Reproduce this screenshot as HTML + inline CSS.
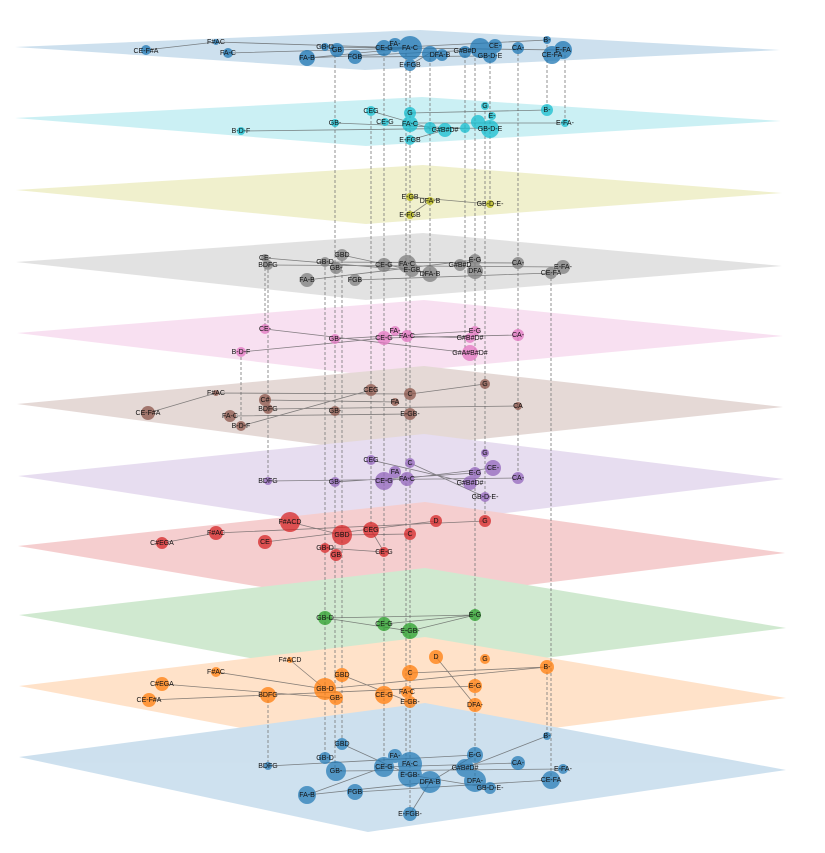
<!DOCTYPE html>
<html><head><meta charset="utf-8"><style>
html,body{margin:0;padding:0;background:#fff;}
svg{display:block;}
text{font-family:"Liberation Sans",sans-serif;font-size:7px;fill:#111;text-anchor:middle;dominant-baseline:middle;}
.e{stroke:#555;stroke-width:0.8;opacity:0.7;fill:none}
.d{stroke:#777;stroke-width:0.8;stroke-dasharray:3,2;fill:none}
</style></head><body>
<svg width="825" height="853" viewBox="0 0 825 853" xmlns="http://www.w3.org/2000/svg">
<!-- planes -->
<g opacity="0.22">
<polygon points="15,47 420,30 780,50 365,70" fill="#1f77b4"/>
<polygon points="15,118 422,97 781,121 366,146" fill="#17becf"/>
<polygon points="16,190 423,165 782,193 366,224" fill="#bcbd22"/>
<polygon points="16,262 423,233 782,266 366,300" fill="#7f7f7f"/>
<polygon points="17,333 424,300 783,336 367,375" fill="#e377c2"/>
<polygon points="17,404 424,366 783,407 367,451" fill="#8c564b"/>
<polygon points="18,476 424,434 784,479 367,530" fill="#9467bd"/>
<polygon points="18,546 425,502 785,553 368,605" fill="#d62728"/>
<polygon points="19,615 425,568 786,628 368,680" fill="#2ca02c"/>
<polygon points="19,686 425,637 786,698 368,752" fill="#ff7f0e"/>
<polygon points="19,757 425,703 786,770 368,832" fill="#1f77b4"/>
</g>
<!-- dashed verticals -->
<g class="d">
<line x1="335" y1="50" x2="335" y2="771"/>
<line x1="384" y1="48" x2="384" y2="767"/>
<line x1="410" y1="65" x2="410" y2="814"/>
<line x1="406" y1="48" x2="406" y2="764"/>
<line x1="430" y1="53" x2="430" y2="274"/>
<line x1="475" y1="48" x2="475" y2="781"/>
<line x1="465" y1="50" x2="465" y2="353"/>
<line x1="485" y1="106" x2="485" y2="521"/>
<line x1="490" y1="56" x2="490" y2="204"/>
<line x1="518" y1="48" x2="518" y2="478"/>
<line x1="547" y1="40" x2="547" y2="110"/>
<line x1="565" y1="50" x2="565" y2="123"/>
<line x1="547" y1="667" x2="547" y2="736"/>
<line x1="268" y1="265" x2="268" y2="481"/>
<line x1="268" y1="695" x2="268" y2="766"/>
<line x1="325" y1="262" x2="325" y2="758"/>
<line x1="342" y1="255" x2="342" y2="744"/>
<line x1="371" y1="111" x2="371" y2="530"/>
<line x1="551" y1="273" x2="551" y2="780"/>
<line x1="265" y1="258" x2="265" y2="329"/>
<line x1="241" y1="352" x2="241" y2="426"/>
</g>
<!-- edges -->
<g class="e">
<path d="M146,50 L216,42 L410,48 M228,53 L410,48 M307,58 L410,48 L560,50 M307,58 L475,50 M355,57 L490,56 M325,47 L565,50 M384,48 L547,40 M410,65 L430,53"/>
<path d="M241,131 L490,128 M335,123 L460,128 M410,113 L547,110 M410,123 L565,123 M371,111 L430,128 M410,140 L445,130"/>
<path d="M410,197 L490,204 M410,215 L430,201"/>
<path d="M268,265 L563,267 M307,280 L475,260 M355,280 L551,273 M325,262 L518,263 M342,255 L430,274 M265,258 L410,270"/>
<path d="M241,352 L384,338 L518,335 M265,329 L470,353 M335,339 L475,331 M407,336 L470,338"/>
<path d="M148,413 L216,393 L410,394 L485,384 M230,416 L410,414 M268,409 L518,406 M241,426 L371,390 M265,400 L395,402"/>
<path d="M268,481 L518,478 M384,481 L493,468 M335,482 L475,473 M371,460 L470,483 M410,463 L485,497"/>
<path d="M162,543 L216,533 L485,521 M265,542 L436,521 M290,522 L342,535 L410,534 M325,548 L384,552 L371,530"/>
<path d="M325,618 L475,615 L410,631 L325,618 M384,624 L475,615"/>
<path d="M149,700 L268,695 L475,686 M162,684 L336,698 M216,672 L325,689 L547,667 M290,660 L325,689 M410,673 L547,667 M436,657 L475,705 M342,675 L410,702"/>
<path d="M268,766 L475,755 M307,795 L430,782 L475,755 M355,792 L551,780 M336,771 L563,769 M342,744 L410,775 L490,788 M384,767 L518,763 M410,814 L430,782 M547,736 L465,768 M307,795 L384,767"/>
</g>
<!-- nodes -->
<g>
<g fill="#1f77b4" opacity="0.75">
<circle cx="146" cy="50" r="5"/><circle cx="216" cy="42" r="3"/><circle cx="228" cy="53" r="5"/><circle cx="307" cy="58" r="8"/><circle cx="325" cy="47" r="4"/><circle cx="337" cy="50" r="7"/><circle cx="355" cy="57" r="7"/><circle cx="384" cy="48" r="8"/><circle cx="395" cy="45" r="7"/><circle cx="410" cy="48" r="12"/><circle cx="410" cy="65" r="6"/><circle cx="430" cy="54" r="8"/><circle cx="442" cy="55" r="6"/><circle cx="465" cy="52" r="6"/><circle cx="480" cy="48" r="10"/><circle cx="490" cy="56" r="7"/><circle cx="495" cy="46" r="7"/><circle cx="518" cy="48" r="6"/><circle cx="547" cy="40" r="4"/><circle cx="552" cy="55" r="9"/><circle cx="563" cy="50" r="9"/>
</g>
<g fill="#17becf" opacity="0.75">
<circle cx="241" cy="131" r="4"/><circle cx="335" cy="123" r="4"/><circle cx="371" cy="111" r="5"/><circle cx="385" cy="122" r="4"/><circle cx="410" cy="113" r="6"/><circle cx="410" cy="124" r="8"/><circle cx="430" cy="128" r="6"/><circle cx="445" cy="130" r="7"/><circle cx="465" cy="128" r="5"/><circle cx="478" cy="122" r="7"/><circle cx="485" cy="106" r="4"/><circle cx="492" cy="116" r="4"/><circle cx="490" cy="129" r="9"/><circle cx="547" cy="110" r="6"/><circle cx="565" cy="123" r="4"/><circle cx="410" cy="140" r="5"/>
</g>
<g fill="#bcbd22" opacity="0.8">
<circle cx="410" cy="197" r="4"/><circle cx="430" cy="201" r="4"/><circle cx="490" cy="204" r="4"/><circle cx="410" cy="215" r="4"/>
</g>
<g fill="#7f7f7f" opacity="0.75">
<circle cx="265" cy="258" r="4"/><circle cx="268" cy="265" r="5"/><circle cx="325" cy="262" r="5"/><circle cx="342" cy="255" r="6"/><circle cx="336" cy="268" r="6"/><circle cx="307" cy="280" r="7"/><circle cx="355" cy="280" r="6"/><circle cx="384" cy="265" r="7"/><circle cx="407" cy="264" r="9"/><circle cx="412" cy="270" r="7"/><circle cx="430" cy="274" r="8"/><circle cx="460" cy="265" r="6"/><circle cx="475" cy="260" r="6"/><circle cx="475" cy="271" r="8"/><circle cx="518" cy="263" r="6"/><circle cx="563" cy="267" r="7"/><circle cx="551" cy="273" r="6"/>
</g>
<g fill="#e377c2" opacity="0.75">
<circle cx="265" cy="329" r="5"/><circle cx="241" cy="352" r="5"/><circle cx="335" cy="339" r="5"/><circle cx="395" cy="331" r="5"/><circle cx="384" cy="338" r="7"/><circle cx="407" cy="336" r="6"/><circle cx="470" cy="353" r="8"/><circle cx="475" cy="331" r="5"/><circle cx="470" cy="338" r="5"/><circle cx="518" cy="335" r="6"/>
</g>
<g fill="#8c564b" opacity="0.75">
<circle cx="216" cy="393" r="3"/><circle cx="148" cy="413" r="7"/><circle cx="230" cy="416" r="6"/><circle cx="241" cy="426" r="5"/><circle cx="265" cy="400" r="6"/><circle cx="268" cy="409" r="5"/><circle cx="335" cy="411" r="5"/><circle cx="371" cy="390" r="6"/><circle cx="410" cy="394" r="6"/><circle cx="395" cy="402" r="4"/><circle cx="410" cy="414" r="6"/><circle cx="485" cy="384" r="5"/><circle cx="518" cy="406" r="4"/>
</g>
<g fill="#9467bd" opacity="0.75">
<circle cx="371" cy="460" r="5"/><circle cx="268" cy="481" r="4"/><circle cx="335" cy="482" r="5"/><circle cx="410" cy="463" r="5"/><circle cx="395" cy="472" r="6"/><circle cx="384" cy="481" r="9"/><circle cx="407" cy="479" r="7"/><circle cx="475" cy="473" r="6"/><circle cx="493" cy="468" r="8"/><circle cx="485" cy="453" r="4"/><circle cx="470" cy="483" r="7"/><circle cx="518" cy="478" r="6"/><circle cx="485" cy="497" r="5"/>
</g>
<g fill="#d62728" opacity="0.75">
<circle cx="162" cy="543" r="6"/><circle cx="216" cy="533" r="7"/><circle cx="265" cy="542" r="7"/><circle cx="290" cy="522" r="10"/><circle cx="342" cy="535" r="10"/><circle cx="371" cy="530" r="8"/><circle cx="436" cy="521" r="6"/><circle cx="485" cy="521" r="6"/><circle cx="410" cy="534" r="6"/><circle cx="325" cy="548" r="5"/><circle cx="336" cy="555" r="6"/><circle cx="384" cy="552" r="5"/>
</g>
<g fill="#2ca02c" opacity="0.75">
<circle cx="325" cy="618" r="7"/><circle cx="384" cy="624" r="7"/><circle cx="410" cy="631" r="8"/><circle cx="475" cy="615" r="6"/>
</g>
<g fill="#ff7f0e" opacity="0.75">
<circle cx="290" cy="660" r="3"/><circle cx="216" cy="672" r="5"/><circle cx="162" cy="684" r="7"/><circle cx="149" cy="700" r="7"/><circle cx="268" cy="695" r="8"/><circle cx="342" cy="675" r="7"/><circle cx="325" cy="689" r="11"/><circle cx="336" cy="698" r="7"/><circle cx="384" cy="695" r="9"/><circle cx="410" cy="673" r="8"/><circle cx="436" cy="657" r="7"/><circle cx="485" cy="659" r="5"/><circle cx="547" cy="667" r="7"/><circle cx="475" cy="686" r="7"/><circle cx="407" cy="692" r="6"/><circle cx="410" cy="702" r="6"/><circle cx="475" cy="705" r="7"/>
</g>
<g fill="#1f77b4" opacity="0.7">
<circle cx="342" cy="744" r="6"/><circle cx="268" cy="766" r="4"/><circle cx="325" cy="758" r="6"/><circle cx="336" cy="771" r="10"/><circle cx="384" cy="767" r="10"/><circle cx="395" cy="756" r="7"/><circle cx="410" cy="764" r="12"/><circle cx="410" cy="775" r="12"/><circle cx="430" cy="782" r="11"/><circle cx="465" cy="768" r="9"/><circle cx="475" cy="755" r="8"/><circle cx="475" cy="781" r="11"/><circle cx="518" cy="763" r="7"/><circle cx="563" cy="769" r="5"/><circle cx="551" cy="780" r="9"/><circle cx="490" cy="788" r="6"/><circle cx="307" cy="795" r="9"/><circle cx="355" cy="792" r="8"/><circle cx="410" cy="814" r="7"/><circle cx="547" cy="736" r="4"/>
</g>
</g>
<!-- labels -->
<g>
<text x="146" y="51">CE-F#A</text><text x="216" y="42">F#AC</text><text x="228" y="53">FA-C</text><text x="307" y="58">FA-B</text><text x="325" y="47">GB-D</text><text x="337" y="50">GB</text><text x="355" y="57">FGB</text><text x="384" y="48">CE-G</text><text x="395" y="44">FA-</text><text x="410" y="48">FA-C</text><text x="410" y="65">E-FGB</text><text x="440" y="55">DFA-B</text><text x="465" y="51">G#B#D</text><text x="490" y="56">GB-D-E</text><text x="495" y="46">CE-</text><text x="518" y="48">CA-</text><text x="547" y="40">B-</text><text x="552" y="55">CE-FA</text><text x="563" y="50">E-FA</text>
<text x="241" y="131">B-D-F</text><text x="335" y="123">GB-</text><text x="371" y="111">CEG</text><text x="385" y="122">CE-G</text><text x="410" y="113">G</text><text x="410" y="124">FA-C</text><text x="445" y="130">G#B#D#</text><text x="485" y="106">G</text><text x="492" y="116">E-</text><text x="490" y="129">GB-D-E</text><text x="547" y="110">B-</text><text x="565" y="123">E-FA-</text><text x="410" y="140">E-FGB</text>
<text x="410" y="197">E-GB</text><text x="430" y="201">DFA-B</text><text x="490" y="204">GB-D-E-</text><text x="410" y="215">E-FGB</text>
<text x="265" y="258">CE-</text><text x="268" y="265">BDFG</text><text x="325" y="262">GB-D</text><text x="342" y="255">GBD</text><text x="336" y="268">GB-</text><text x="307" y="280">FA-B</text><text x="355" y="280">FGB</text><text x="384" y="265">CE-G</text><text x="407" y="264">FA-C</text><text x="412" y="270">E-GB</text><text x="430" y="274">DFA-B</text><text x="460" y="265">G#B#D</text><text x="475" y="260">E-G</text><text x="475" y="271">DFA</text><text x="518" y="263">CA-</text><text x="563" y="267">E-FA-</text><text x="551" y="273">CE-FA</text>
<text x="265" y="329">CE-</text><text x="241" y="352">B-D-F</text><text x="335" y="339">GB-</text><text x="395" y="331">FA-</text><text x="384" y="338">CE-G</text><text x="407" y="336">FA-C</text><text x="470" y="353">G#A#B#D#</text><text x="475" y="331">E-G</text><text x="470" y="338">G#B#D#</text><text x="518" y="335">CA-</text>
<text x="216" y="393">F#AC</text><text x="148" y="413">CE-F#A</text><text x="230" y="416">FA-C</text><text x="241" y="426">B-D-F</text><text x="265" y="400">C#</text><text x="268" y="409">BDFG</text><text x="335" y="411">GB-</text><text x="371" y="390">CEG</text><text x="410" y="394">C</text><text x="395" y="402">FA</text><text x="410" y="414">E-GB-</text><text x="485" y="384">G</text><text x="518" y="406">CA</text>
<text x="371" y="460">CEG</text><text x="268" y="481">BDFG</text><text x="335" y="482">GB-</text><text x="410" y="463">C</text><text x="395" y="472">FA</text><text x="384" y="481">CE-G</text><text x="407" y="479">FA-C</text><text x="475" y="473">E-G</text><text x="493" y="468">CE-</text><text x="485" y="453">G</text><text x="470" y="483">G#B#D#</text><text x="518" y="478">CA-</text><text x="485" y="497">GB-D-E-</text>
<text x="162" y="543">C#EGA</text><text x="216" y="533">F#AC</text><text x="265" y="542">CE</text><text x="290" y="522">F#ACD</text><text x="342" y="535">GBD</text><text x="371" y="530">CEG</text><text x="436" y="521">D</text><text x="485" y="521">G</text><text x="410" y="534">C</text><text x="325" y="548">GB-D</text><text x="336" y="555">GB</text><text x="384" y="552">CE-G</text>
<text x="325" y="618">GB-D</text><text x="384" y="624">CE-G</text><text x="410" y="631">E-GB-</text><text x="475" y="615">E-G</text>
<text x="290" y="660">F#ACD</text><text x="216" y="672">F#AC</text><text x="162" y="684">C#EGA</text><text x="149" y="700">CE-F#A</text><text x="268" y="695">BDFG</text><text x="342" y="675">GBD</text><text x="325" y="689">GB-D</text><text x="336" y="698">GB-</text><text x="384" y="695">CE-G</text><text x="410" y="673">C</text><text x="436" y="657">D</text><text x="485" y="659">G</text><text x="547" y="667">B-</text><text x="475" y="686">E-G</text><text x="407" y="692">FA-C</text><text x="410" y="702">E-GB-</text><text x="475" y="705">DFA-</text>
<text x="342" y="744">GBD</text><text x="268" y="766">BDFG</text><text x="325" y="758">GB-D</text><text x="336" y="771">GB-</text><text x="384" y="767">CE-G</text><text x="395" y="756">FA-</text><text x="410" y="764">FA-C</text><text x="410" y="775">E-GB-</text><text x="430" y="782">DFA-B</text><text x="465" y="768">G#B#D#</text><text x="475" y="755">E-G</text><text x="475" y="781">DFA-</text><text x="518" y="763">CA-</text><text x="563" y="769">E-FA-</text><text x="551" y="780">CE-FA</text><text x="490" y="788">GB-D-E-</text><text x="307" y="795">FA-B</text><text x="355" y="792">FGB</text><text x="410" y="814">E-FGB-</text><text x="547" y="736">B-</text>
</g>
</svg>
</body></html>
